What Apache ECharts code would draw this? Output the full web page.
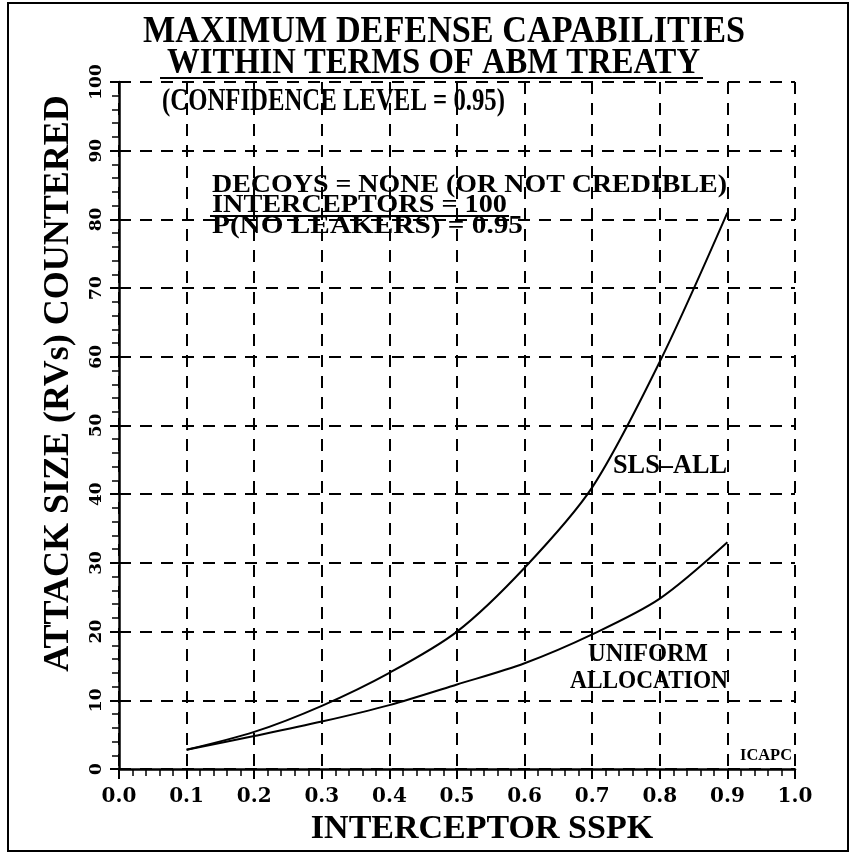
<!DOCTYPE html>
<html>
<head>
<meta charset="utf-8">
<script src="https://cdn.jsdelivr.net/npm/echarts@6/dist/echarts.min.js"></script>
<style>
  html, body { margin: 0; padding: 0; background: #fff; }
  #chart { width: 854px; height: 856px; }
</style>
</head>
<body>
<div id="chart"></div>
<script>
// values
const sspk = [0.1, 0.2, 0.3, 0.4, 0.5, 0.6, 0.7, 0.8, 0.9]
const slsAll = [2.8, 5.4, 9.2, 14.0, 20.0, 29.3, 41.0, 59.3, 81.0]
const uniformAlloc = [2.8, 4.8, 6.9, 9.3, 12.3, 15.4, 19.6, 24.8, 33.0]

const xRange = [0, 1.0]
const xStep = 0.1
const yRange = [0, 100]
const yStep = 10

const serif = '"Liberation Serif", "Times New Roman", serif'
const ctx = document.createElement('canvas').getContext('2d')

// free text squeezed to the width it has in the scan
function label(text, left, right, midY, capH) {
    const size = capH / 0.662
    const font = 'bold ' + size.toFixed(1) + 'px ' + serif
    ctx.font = font
    const w = ctx.measureText(text).width
    return {
        type: 'text',
        x: left,
        y: midY,
        scaleX: (right - left) / w,
        silent: true,
        style: { text: text, font: font, fill: '#000', align: 'left', verticalAlign: 'middle' }
    }
}

function rule(x1, x2, y) {
    return {
        type: 'line',
        silent: true,
        shape: { x1: x1, y1: y, x2: x2, y2: y },
        style: { stroke: '#000', lineWidth: 2 }
    }
}

const chart = echarts.init(document.getElementById('chart'))

const gridLine = { show: true, lineStyle: { color: '#000', width: 2, type: [12, 9] } }

const option = {
    animation: false,
    backgroundColor: '#fff',
    grid: { left: 119, right: 59, top: 82, bottom: 87 },
    xAxis: {
        type: 'value',
        min: xRange[0],
        max: xRange[1],
        interval: xStep,
        name: 'INTERCEPTOR SSPK',
        nameLocation: 'middle',
        nameGap: 42,
        nameTextStyle: { fontFamily: serif, fontWeight: 'bold', fontSize: 34, color: '#000', padding: [0, 0, 0, 50] },
        axisLine: { lineStyle: { color: '#000', width: 2.5 } },
        axisTick: { length: 10, lineStyle: { color: '#000', width: 2 } },
        minorTick: { show: true, splitNumber: 5, length: 7, lineStyle: { color: '#000', width: 1.5 } },
        axisLabel: {
            margin: 18,
            fontFamily: 'DejaVu Serif',
            fontWeight: 'bold',
            fontSize: 20,
            color: '#000',
            formatter: v => v.toFixed(1)
        },
        splitLine: gridLine
    },
    yAxis: {
        type: 'value',
        min: yRange[0],
        max: yRange[1],
        interval: yStep,
        name: 'ATTACK SIZE (RVs) COUNTERED',
        nameLocation: 'middle',
        nameRotate: 90,
        nameGap: 42,
        nameTextStyle: { fontFamily: serif, fontWeight: 'bold', fontSize: 36, color: '#000', padding: [0, 0, 0, 84] },
        axisLine: { lineStyle: { color: '#000', width: 2.5 } },
        axisTick: { length: 9, lineStyle: { color: '#000', width: 2 } },
        minorTick: { show: true, splitNumber: 5, length: 7, lineStyle: { color: '#000', width: 1.5 } },
        axisLabel: { margin: 14, rotate: 90, fontFamily: 'DejaVu Serif', fontWeight: 'bold', fontSize: 17, color: '#000' },
        splitLine: gridLine
    },
    series: [
        {
            name: 'SLS-ALL',
            type: 'line',
            smooth: 0.3,
            showSymbol: false,
            silent: true,
            lineStyle: { color: '#000', width: 2 },
            data: sspk.map((x, i) => [x, slsAll[i]])
        },
        {
            name: 'UNIFORM ALLOCATION',
            type: 'line',
            smooth: 0.3,
            showSymbol: false,
            silent: true,
            lineStyle: { color: '#000', width: 2 },
            data: sspk.map((x, i) => [x, uniformAlloc[i]])
        }
    ],
    graphic: [
        {
            type: 'rect',
            silent: true,
            shape: { x: 8, y: 3, width: 840, height: 848 },
            style: { fill: null, stroke: '#000', lineWidth: 2 }
        },
        label('MAXIMUM DEFENSE CAPABILITIES', 143, 745, 32, 25),
        label('WITHIN TERMS OF ABM TREATY', 167, 700, 64, 24),
        rule(160, 703, 78),
        label('(CONFIDENCE LEVEL = 0.95)', 162, 505, 102, 21),
        label('DECOYS = NONE (OR NOT CREDIBLE)', 212, 727, 186, 16),
        label('INTERCEPTORS = 100', 212, 507, 206, 16),
        rule(210, 509, 216),
        label('P(NO LEAKERS) = 0.95', 212, 523, 227, 16),
        label('SLS\u2013ALL', 613, 727, 466, 18),
        label('UNIFORM', 588, 708, 655, 16),
        label('ALLOCATION', 570, 728, 681, 17),
        label('ICAPC', 740, 792, 756, 11)
    ]
}

chart.setOption(option)
</script>
</body>
</html>
